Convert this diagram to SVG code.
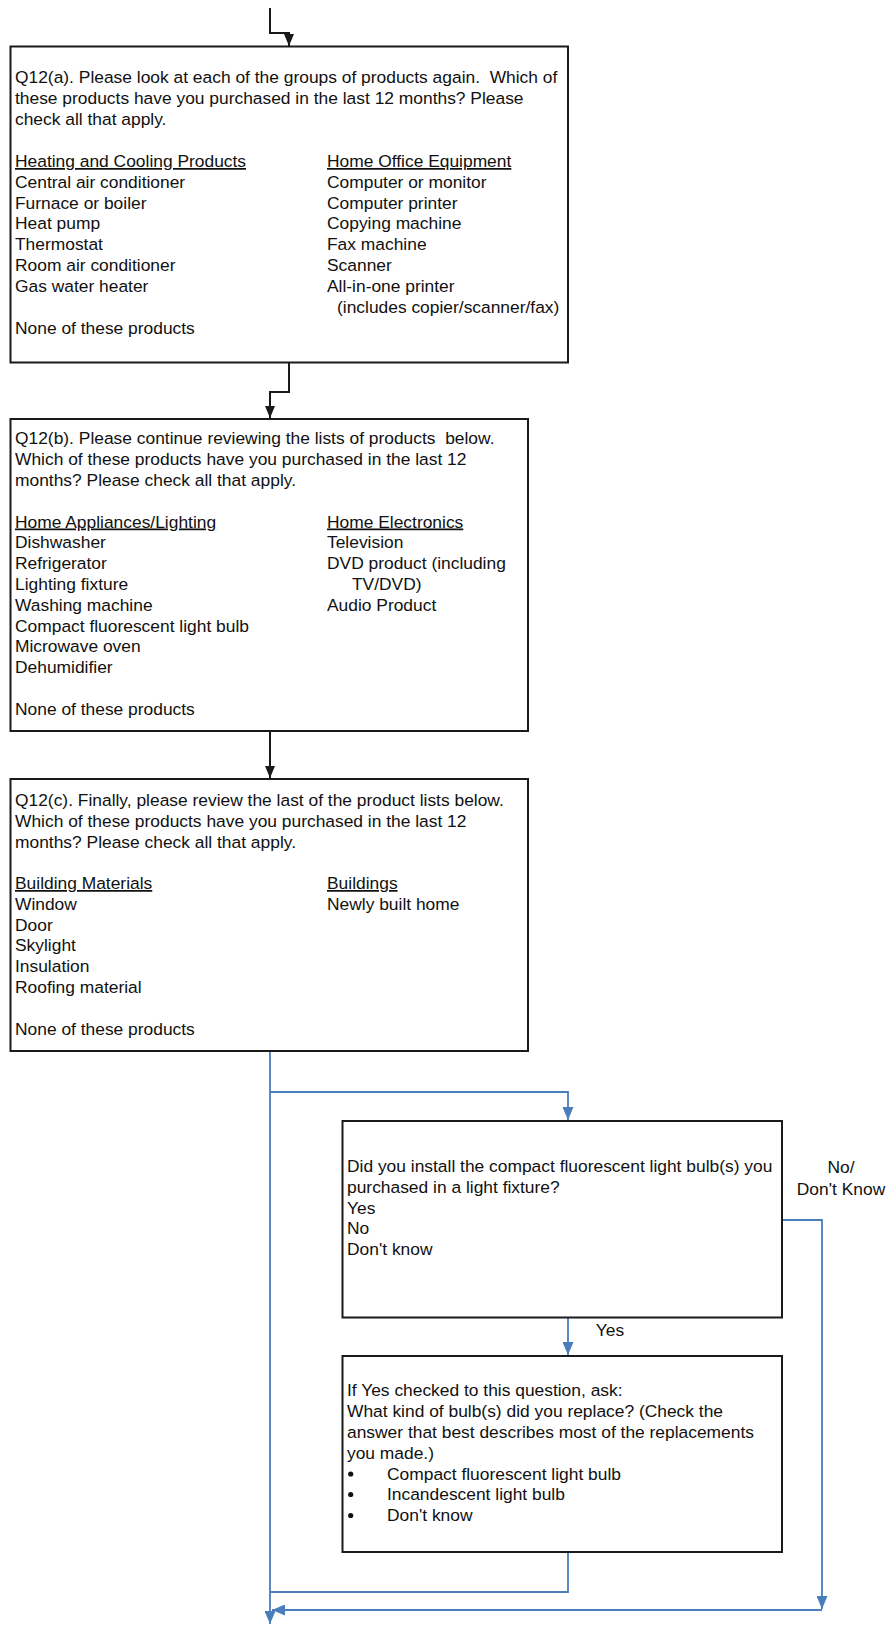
<svg xmlns="http://www.w3.org/2000/svg" width="887" height="1625" viewBox="0 0 887 1625">
<style>
.box{fill:#fff;stroke:#1a1a1a;stroke-width:2}
.t{font-family:"Liberation Sans",Arial,sans-serif;font-size:17.4px;fill:#111}
.p{white-space:pre}
.u{text-decoration:underline}
.ck{fill:none;stroke:#1a1a1a;stroke-width:2}
.cb{fill:none;stroke:#4a7ebb;stroke-width:1.8}
</style>
<defs>
<marker id="ak" markerUnits="userSpaceOnUse" viewBox="0 0 12 10" refX="12" refY="5" markerWidth="12" markerHeight="10" orient="auto"><path d="M0,0 L12,5 L0,10 z" fill="#1a1a1a"/></marker>
<marker id="ab" markerUnits="userSpaceOnUse" viewBox="0 0 13 11" refX="13" refY="5.5" markerWidth="13" markerHeight="11" orient="auto"><path d="M0,0 L13,5.5 L0,11 z" fill="#4a7ebb"/></marker>
</defs>
<rect width="887" height="1625" fill="#fff"/>
<g id="connectors">
<path class="ck" d="M270,8 V33 H289 V46" marker-end="url(#ak)"/>
<path class="ck" d="M289,363 V392 H270 V418" marker-end="url(#ak)"/>
<path class="ck" d="M270,732 V778" marker-end="url(#ak)"/>
<path class="cb" d="M270,1052 V1624" marker-end="url(#ab)"/>
<path class="cb" d="M270,1092 H568 V1120" marker-end="url(#ab)"/>
<path class="cb" d="M783,1220 H822 V1609" marker-end="url(#ab)"/>
<path class="cb" d="M822,1610 H272" marker-end="url(#ab)"/>
<path class="cb" d="M568,1318 V1355" marker-end="url(#ab)"/>
<path class="cb" d="M568,1553 V1592 H270"/>
<text class="t" x="841" y="1173" text-anchor="middle">No/</text>
<text class="t" x="841" y="1195" text-anchor="middle">Don't Know</text>
<text class="t" x="610" y="1336" text-anchor="middle">Yes</text>
</g>
<g id="q12a">
<rect class="box" x="10.5" y="46.5" width="557.5" height="316"/>
<text class="t p" x="15" y="83" xml:space="preserve">Q12(a). Please look at each of the groups of products again.  Which of</text>
<text class="t" x="15" y="104">these products have you purchased in the last 12 months? Please</text>
<text class="t" x="15" y="125">check all that apply.</text>
<text class="t u" x="15" y="167">Heating and Cooling Products</text>
<text class="t" x="15" y="187.5">Central air conditioner</text>
<text class="t" x="15" y="208.5">Furnace or boiler</text>
<text class="t" x="15" y="229">Heat pump</text>
<text class="t" x="15" y="250">Thermostat</text>
<text class="t" x="15" y="271">Room air conditioner</text>
<text class="t" x="15" y="292">Gas water heater</text>
<text class="t" x="15" y="333.5">None of these products</text>
<text class="t u" x="327" y="167">Home Office Equipment</text>
<text class="t" x="327" y="187.5">Computer or monitor</text>
<text class="t" x="327" y="208.5">Computer printer</text>
<text class="t" x="327" y="229">Copying machine</text>
<text class="t" x="327" y="250">Fax machine</text>
<text class="t" x="327" y="271">Scanner</text>
<text class="t" x="327" y="292">All-in-one printer</text>
<text class="t" x="337" y="313">(includes copier/scanner/fax)</text>
</g>
<g id="q12b">
<rect class="box" x="10.5" y="419" width="517.5" height="312"/>
<text class="t p" x="15" y="444" xml:space="preserve">Q12(b). Please continue reviewing the lists of products  below.</text>
<text class="t" x="15" y="465">Which of these products have you purchased in the last 12</text>
<text class="t" x="15" y="486">months? Please check all that apply.</text>
<text class="t u" x="15" y="527.5">Home Appliances/Lighting</text>
<text class="t" x="15" y="548">Dishwasher</text>
<text class="t" x="15" y="569">Refrigerator</text>
<text class="t" x="15" y="590">Lighting fixture</text>
<text class="t" x="15" y="610.5">Washing machine</text>
<text class="t" x="15" y="631.5">Compact fluorescent light bulb</text>
<text class="t" x="15" y="652">Microwave oven</text>
<text class="t" x="15" y="673">Dehumidifier</text>
<text class="t" x="15" y="714.5">None of these products</text>
<text class="t u" x="327" y="527.5">Home Electronics</text>
<text class="t" x="327" y="548">Television</text>
<text class="t" x="327" y="569">DVD product (including</text>
<text class="t" x="352" y="590">TV/DVD)</text>
<text class="t" x="327" y="610.5">Audio Product</text>
</g>
<g id="q12c">
<rect class="box" x="10.5" y="779" width="517.5" height="272"/>
<text class="t" x="15" y="806">Q12(c). Finally, please review the last of the product lists below.</text>
<text class="t" x="15" y="826.5">Which of these products have you purchased in the last 12</text>
<text class="t" x="15" y="847.5">months? Please check all that apply.</text>
<text class="t u" x="15" y="889">Building Materials</text>
<text class="t" x="15" y="910">Window</text>
<text class="t" x="15" y="930.5">Door</text>
<text class="t" x="15" y="951">Skylight</text>
<text class="t" x="15" y="972">Insulation</text>
<text class="t" x="15" y="993">Roofing material</text>
<text class="t" x="15" y="1034.5">None of these products</text>
<text class="t u" x="327" y="889">Buildings</text>
<text class="t" x="327" y="910">Newly built home</text>
</g>
<g id="install">
<rect class="box" x="342.5" y="1121" width="439.5" height="196.5"/>
<text class="t" x="347" y="1172">Did you install the compact fluorescent light bulb(s) you</text>
<text class="t" x="347" y="1192.5">purchased in a light fixture?</text>
<text class="t" x="347" y="1213.5">Yes</text>
<text class="t" x="347" y="1234">No</text>
<text class="t" x="347" y="1255">Don't know</text>
</g>
<g id="replace">
<rect class="box" x="342.5" y="1356" width="439.5" height="196"/>
<text class="t" x="347" y="1396">If Yes checked to this question, ask:</text>
<text class="t" x="347" y="1417">What kind of bulb(s) did you replace? (Check the</text>
<text class="t" x="347" y="1438">answer that best describes most of the replacements</text>
<text class="t" x="347" y="1459">you made.)</text>
<circle cx="350.7" cy="1474" r="2.6" fill="#111"/>
<circle cx="350.7" cy="1494.5" r="2.6" fill="#111"/>
<circle cx="350.7" cy="1515.5" r="2.6" fill="#111"/>
<text class="t" x="387" y="1479.5">Compact fluorescent light bulb</text>
<text class="t" x="387" y="1500">Incandescent light bulb</text>
<text class="t" x="387" y="1521">Don't know</text>
</g>
</svg>
